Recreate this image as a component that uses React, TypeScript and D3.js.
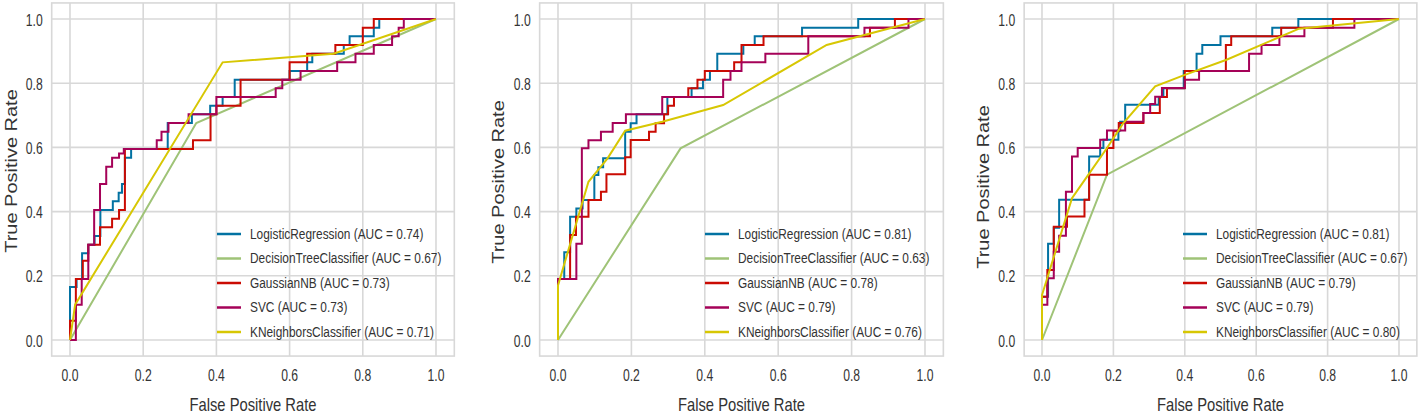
import React from "react";
import * as d3 from "d3";

// ---------- DATA ----------
const modelNames = ["LogisticRegression", "DecisionTreeClassifier", "GaussianNB", "SVC", "KNeighborsClassifier"];
const ticks = [0.0, 0.2, 0.4, 0.6, 0.8, 1.0];

const auc1 = [0.74, 0.67, 0.73, 0.73, 0.71];
const auc2 = [0.81, 0.63, 0.78, 0.79, 0.76];
const auc3 = [0.81, 0.67, 0.79, 0.79, 0.80];

type Pt = [number, number];

// Panel 1
const p1LR: Pt[] = [[0,0],[0,0.165],[0.018,0.165],[0.018,0.19],[0.033,0.19],[0.033,0.27],[0.05,0.27],[0.05,0.297],[0.067,0.297],[0.067,0.324],[0.083,0.324],[0.083,0.405],[0.117,0.405],[0.117,0.432],[0.133,0.432],[0.133,0.459],[0.142,0.459],[0.142,0.486],[0.15,0.486],[0.15,0.568],[0.167,0.568],[0.167,0.595],[0.267,0.595],[0.267,0.676],[0.333,0.676],[0.333,0.703],[0.383,0.703],[0.383,0.73],[0.417,0.73],[0.417,0.757],[0.45,0.757],[0.45,0.811],[0.6,0.811],[0.6,0.838],[0.648,0.838],[0.648,0.865],[0.662,0.865],[0.662,0.892],[0.748,0.892],[0.748,0.919],[0.764,0.919],[0.764,0.946],[0.83,0.946],[0.83,0.973],[0.845,0.973],[0.845,1],[1,1]];
const p1DT: Pt[] = [[0,0],[0.345,0.676],[1,1]];
const p1NB: Pt[] = [[0,0],[0,0.06],[0.016,0.06],[0.016,0.19],[0.035,0.19],[0.035,0.247],[0.05,0.247],[0.05,0.297],[0.082,0.297],[0.082,0.351],[0.115,0.351],[0.115,0.378],[0.134,0.378],[0.134,0.405],[0.15,0.405],[0.15,0.595],[0.336,0.595],[0.336,0.622],[0.384,0.622],[0.384,0.703],[0.4,0.703],[0.4,0.73],[0.466,0.73],[0.466,0.811],[0.6,0.811],[0.6,0.865],[0.648,0.865],[0.648,0.892],[0.725,0.892],[0.725,0.919],[0.8,0.919],[0.8,0.973],[0.83,0.973],[0.83,1],[1,1]];
const p1SVC: Pt[] = [[0,0],[0.016,0],[0.016,0.11],[0.032,0.11],[0.032,0.19],[0.05,0.19],[0.05,0.297],[0.066,0.297],[0.066,0.405],[0.082,0.405],[0.082,0.486],[0.099,0.486],[0.099,0.54],[0.115,0.54],[0.115,0.568],[0.134,0.568],[0.134,0.581],[0.147,0.581],[0.147,0.595],[0.237,0.595],[0.237,0.622],[0.25,0.622],[0.25,0.649],[0.269,0.649],[0.269,0.676],[0.324,0.676],[0.324,0.703],[0.4,0.703],[0.4,0.757],[0.562,0.757],[0.562,0.784],[0.58,0.784],[0.58,0.811],[0.63,0.811],[0.63,0.838],[0.73,0.838],[0.73,0.865],[0.78,0.865],[0.78,0.892],[0.83,0.892],[0.83,0.919],[0.88,0.919],[0.88,0.946],[0.898,0.946],[0.898,0.973],[0.912,0.973],[0.912,1],[1,1]];
const p1KNN: Pt[] = [[0,0],[0.014,0.11],[0.417,0.865],[0.72,0.892],[1,1]];

// Panel 2
const p2LR: Pt[] = [[0,0],[0,0.19],[0.017,0.19],[0.017,0.273],[0.033,0.273],[0.033,0.384],[0.05,0.384],[0.05,0.41],[0.067,0.41],[0.067,0.436],[0.099,0.436],[0.099,0.514],[0.11,0.514],[0.11,0.538],[0.123,0.538],[0.123,0.566],[0.183,0.566],[0.183,0.649],[0.198,0.649],[0.198,0.675],[0.214,0.675],[0.214,0.703],[0.298,0.703],[0.298,0.757],[0.364,0.757],[0.364,0.784],[0.395,0.784],[0.395,0.811],[0.414,0.811],[0.414,0.838],[0.434,0.838],[0.434,0.892],[0.505,0.892],[0.505,0.919],[0.536,0.919],[0.536,0.946],[0.665,0.946],[0.665,0.973],[0.818,0.973],[0.818,1],[1,1]];
const p2DT: Pt[] = [[0,0],[0.334,0.597],[1,1]];
const p2NB: Pt[] = [[0,0],[0,0.19],[0.033,0.19],[0.033,0.327],[0.049,0.327],[0.049,0.384],[0.083,0.384],[0.083,0.436],[0.117,0.436],[0.117,0.462],[0.132,0.462],[0.132,0.516],[0.183,0.516],[0.183,0.569],[0.198,0.569],[0.198,0.623],[0.248,0.623],[0.248,0.649],[0.266,0.649],[0.266,0.675],[0.289,0.675],[0.289,0.703],[0.3,0.703],[0.3,0.73],[0.316,0.73],[0.316,0.757],[0.355,0.757],[0.355,0.784],[0.38,0.784],[0.38,0.811],[0.4,0.811],[0.4,0.838],[0.48,0.838],[0.48,0.865],[0.5,0.865],[0.5,0.919],[0.56,0.919],[0.56,0.946],[0.85,0.946],[0.85,0.973],[0.918,0.973],[0.918,1],[1,1]];
const p2SVC: Pt[] = [[0,0],[0,0.19],[0.05,0.19],[0.05,0.3],[0.065,0.3],[0.065,0.597],[0.083,0.597],[0.083,0.622],[0.117,0.622],[0.117,0.649],[0.149,0.649],[0.149,0.676],[0.185,0.676],[0.185,0.703],[0.284,0.703],[0.284,0.757],[0.45,0.757],[0.45,0.811],[0.47,0.811],[0.47,0.838],[0.5,0.838],[0.5,0.865],[0.565,0.865],[0.565,0.892],[0.682,0.892],[0.682,0.946],[0.835,0.946],[0.835,0.973],[0.955,0.973],[0.955,1],[1,1]];
const p2KNN: Pt[] = [[0,0],[0,0.17],[0.083,0.493],[0.135,0.566],[0.183,0.652],[0.284,0.68],[0.45,0.732],[0.732,0.919],[1,1]];

// Panel 3
const p3LR: Pt[] = [[0,0],[0,0.135],[0.017,0.135],[0.017,0.3],[0.033,0.3],[0.033,0.35],[0.048,0.35],[0.048,0.437],[0.132,0.437],[0.132,0.572],[0.163,0.572],[0.163,0.598],[0.172,0.598],[0.172,0.624],[0.214,0.624],[0.214,0.653],[0.219,0.653],[0.219,0.68],[0.233,0.68],[0.233,0.733],[0.327,0.733],[0.327,0.757],[0.34,0.757],[0.34,0.784],[0.397,0.784],[0.397,0.838],[0.433,0.838],[0.433,0.892],[0.449,0.892],[0.449,0.919],[0.5,0.919],[0.5,0.946],[0.645,0.946],[0.645,0.973],[0.718,0.973],[0.718,1],[1,1]];
const p3DT: Pt[] = [[0,0],[0.182,0.515],[1,1]];
const p3NB: Pt[] = [[0,0],[0,0.135],[0.015,0.135],[0.015,0.218],[0.033,0.218],[0.033,0.353],[0.07,0.353],[0.07,0.385],[0.119,0.385],[0.119,0.437],[0.132,0.437],[0.132,0.515],[0.182,0.515],[0.182,0.598],[0.2,0.598],[0.2,0.65],[0.215,0.65],[0.215,0.676],[0.284,0.676],[0.284,0.707],[0.33,0.707],[0.33,0.757],[0.35,0.757],[0.35,0.784],[0.4,0.784],[0.4,0.838],[0.515,0.838],[0.515,0.919],[0.53,0.919],[0.53,0.946],[0.67,0.946],[0.67,0.973],[0.815,0.973],[0.815,1],[1,1]];
const p3SVC: Pt[] = [[0,0],[0,0.11],[0.015,0.11],[0.015,0.192],[0.033,0.192],[0.033,0.275],[0.048,0.275],[0.048,0.325],[0.067,0.325],[0.067,0.462],[0.084,0.462],[0.084,0.572],[0.1,0.572],[0.1,0.598],[0.163,0.598],[0.163,0.624],[0.182,0.624],[0.182,0.653],[0.233,0.653],[0.233,0.68],[0.284,0.68],[0.284,0.707],[0.303,0.707],[0.303,0.735],[0.317,0.735],[0.317,0.758],[0.336,0.758],[0.336,0.785],[0.4,0.785],[0.4,0.811],[0.44,0.811],[0.44,0.838],[0.58,0.838],[0.58,0.892],[0.615,0.892],[0.615,0.919],[0.665,0.919],[0.665,0.946],[0.735,0.946],[0.735,0.973],[0.875,0.973],[0.875,1],[1,1]];
const p3KNN: Pt[] = [[0,0],[0,0.14],[0.084,0.442],[0.13,0.515],[0.182,0.598],[0.228,0.676],[0.317,0.79],[0.4,0.826],[0.517,0.873],[0.72,0.97],[1,1]];

// ---------- STYLE / LAYOUT ----------
const colors = ["#0272a2", "#9fc377", "#ca0b03", "#a50258", "#d7c703"];
const FONT = "'Liberation Sans', Arial, sans-serif";
const GRID = "#d8d8d8";
const TEXT = "#333333";
const SX = 0.82; // the whole figure is horizontally condensed

const panels = [
  { series: [p1LR, p1DT, p1NB, p1SVC, p1KNN], auc: auc1, x0: 70, x1: 436, ylabX: 11, ylabY: 171, legX: 217 },
  { series: [p2LR, p2DT, p2NB, p2SVC, p2KNN], auc: auc2, x0: 558, x1: 925, ylabX: 498, ylabY: 182, legX: 705 },
  { series: [p3LR, p3DT, p3NB, p3SVC, p3KNN], auc: auc3, x0: 1042, x1: 1399, ylabX: 983, ylabY: 187, legX: 1183 },
];
const yTop = 19, yBot = 340;

function T({ x, y, size, anchor = "start", sx = SX, children }: any) {
  return (
    <g transform={`translate(${x},${y}) scale(${sx},1)`}>
      <text x={0} y={0} textAnchor={anchor} dominantBaseline="central" fontFamily={FONT} fontSize={size} fill={TEXT}>
        {children}
      </text>
    </g>
  );
}

function Panel({ p }: { p: typeof panels[number] }) {
  const x = d3.scaleLinear().domain([0, 1]).range([p.x0, p.x1]);
  const y = d3.scaleLinear().domain([0, 1]).range([yBot, yTop]);
  const fx0 = x(-0.05), fx1 = x(1.05), fy0 = y(1.05), fy1 = y(-0.05);
  const line = d3.line<Pt>().x(d => x(d[0])).y(d => y(d[1]));
  const legRowY = [234, 258.5, 283, 307.5, 332];
  return (
    <g>
      <rect x={fx0} y={fy0} width={fx1 - fx0} height={fy1 - fy0} fill="#ffffff" />
      {ticks.map(t => (
        <line key={"gx" + t} x1={x(t)} x2={x(t)} y1={fy0} y2={fy1} stroke={GRID} strokeWidth={1.6} />
      ))}
      {ticks.map(t => (
        <line key={"gy" + t} x1={fx0} x2={fx1} y1={y(t)} y2={y(t)} stroke={GRID} strokeWidth={1.6} />
      ))}
      <rect x={fx0} y={fy0} width={fx1 - fx0} height={fy1 - fy0} fill="none" stroke={GRID} strokeWidth={1.6} />
      {p.series.map((s, i) => (
        <path key={"s" + i} d={line(s) || ""} fill="none" stroke={colors[i]} strokeWidth={2} strokeLinejoin="miter" />
      ))}
      {ticks.map(t => (
        <T key={"tx" + t} x={x(t)} y={375} size={16} anchor="middle" sx={0.76}>{t.toFixed(1)}</T>
      ))}
      {ticks.map(t => (
        <T key={"ty" + t} x={fx0 - 9} y={y(t) + 1} size={16} anchor="end" sx={0.76}>{t.toFixed(1)}</T>
      ))}
      <T x={(p.x0 + p.x1) / 2} y={404} size={18} anchor="middle">False Positive Rate</T>
      <g transform={`translate(${p.ylabX},${p.ylabY}) rotate(-90) scale(1,${SX})`}>
        <text x={0} y={0} textAnchor="middle" dominantBaseline="central" fontFamily={FONT} fontSize={20} fill={TEXT}>
          True Positive Rate
        </text>
      </g>
      {modelNames.map((m, i) => (
        <g key={"lg" + i}>
          <line x1={p.legX} x2={p.legX + 24} y1={legRowY[i]} y2={legRowY[i]} stroke={colors[i]} strokeWidth={2.5} />
          <T x={p.legX + 33} y={legRowY[i]} size={14.5}>{`${m} (AUC = ${p.auc[i].toFixed(2)})`}</T>
        </g>
      ))}
    </g>
  );
}

export default function App() {
  return (
    <div style={{ position: "absolute", left: 0, top: 0 }}>
      <svg width={1418} height={416} style={{ display: "block", background: "#ffffff" }}>
        {panels.map((p, i) => <Panel key={i} p={p} />)}
      </svg>
    </div>
  );
}
